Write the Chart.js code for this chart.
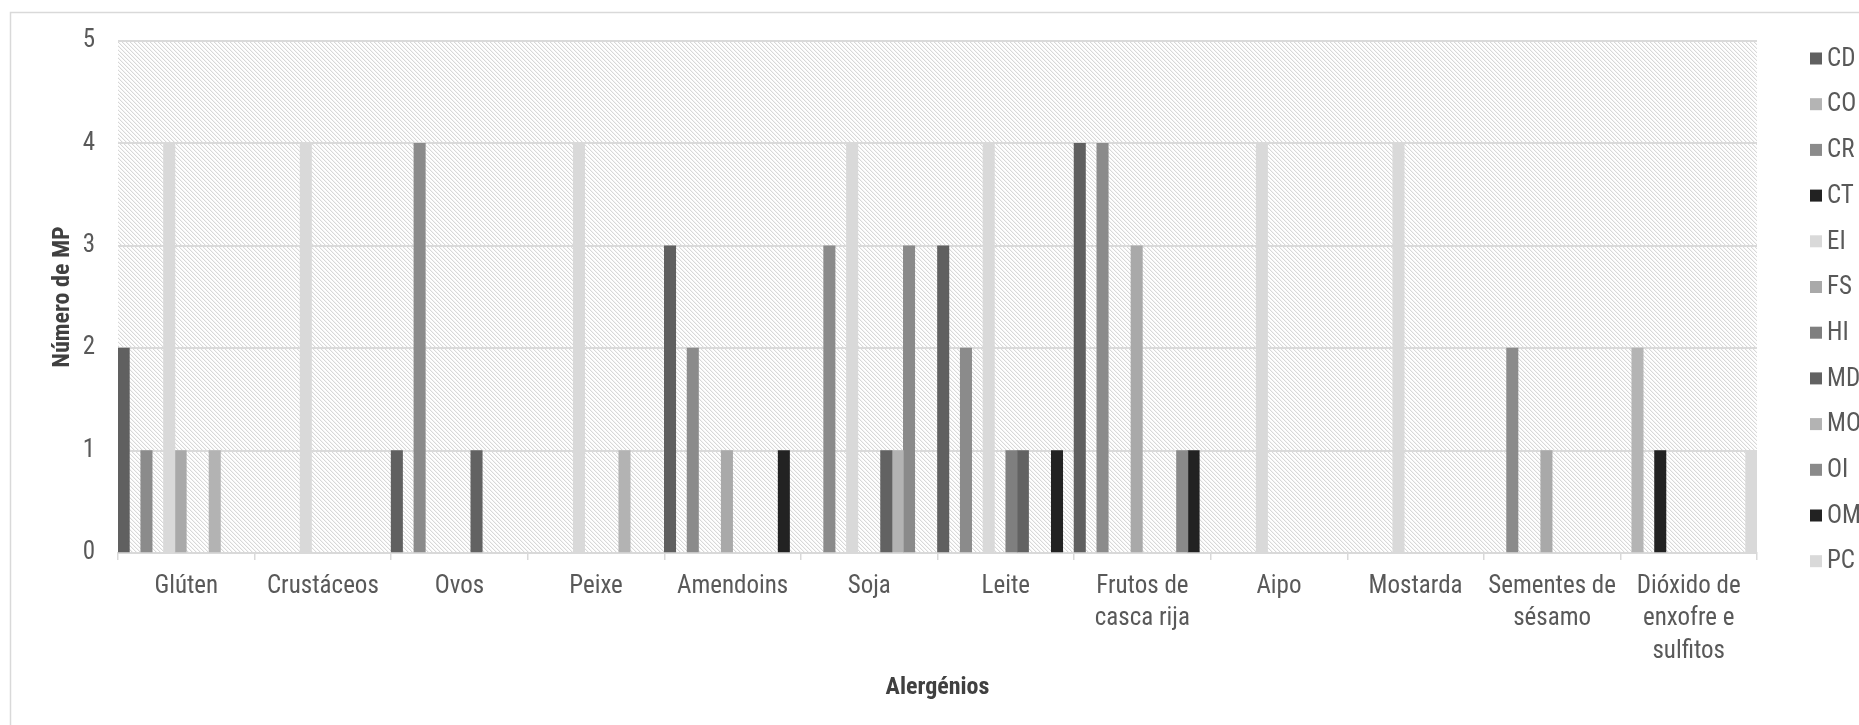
<!DOCTYPE html>
<html>
<head>
<meta charset="utf-8">
<script src="https://cdn.jsdelivr.net/npm/chart.js@4.4.0/dist/chart.umd.min.js"></script>
<style>
  html, body { margin: 0; padding: 0; background: #ffffff; }
  #wrap { width: 1859px; height: 725px; position: relative; }
</style>
</head>
<body>
<div id="wrap"><canvas id="chart" width="1859" height="725"></canvas></div>
<script>
// Categories (allergens) and tick values
const categories = [
  "Glúten", "Crustáceos", "Ovos", "Peixe", "Amendoins", "Soja", "Leite",
  ["Frutos de", "casca rija"], "Aipo", "Mostarda",
  ["Sementes de", "sésamo"], ["Dióxido de", "enxofre e", "sulfitos"]
];
const yTicks = [0, 1, 2, 3, 4, 5];

// Number of raw materials per allergen, one array per supplier group
const CD = [2, 0, 1, 0, 3, 0, 3, 4, 0, 0, 0, 0];
const CO = [0, 0, 0, 0, 0, 0, 0, 0, 0, 0, 0, 2];
const CR = [1, 0, 4, 0, 2, 3, 2, 4, 0, 0, 2, 0];
const CT = [0, 0, 0, 0, 0, 0, 0, 0, 0, 0, 0, 1];
const EI = [4, 4, 0, 4, 0, 4, 4, 0, 4, 4, 0, 0];
const FS = [1, 0, 0, 0, 1, 0, 0, 3, 0, 0, 1, 0];
const HI = [0, 0, 0, 0, 0, 0, 1, 0, 0, 0, 0, 0];
const MD = [0, 0, 1, 0, 0, 1, 1, 0, 0, 0, 0, 0];
const MO = [1, 0, 0, 1, 0, 1, 0, 0, 0, 0, 0, 0];
const OI = [0, 0, 0, 0, 0, 3, 0, 1, 0, 0, 0, 0];
const OM = [0, 0, 0, 0, 1, 0, 1, 1, 0, 0, 0, 0];
const PC = [0, 0, 0, 0, 0, 0, 0, 0, 0, 0, 0, 1];

const seriesNames = ["CD", "CO", "CR", "CT", "EI", "FS", "HI", "MD", "MO", "OI", "OM", "PC"];
const seriesValues = [CD, CO, CR, CT, EI, FS, HI, MD, MO, OI, OM, PC];
const seriesColors = ["#606060", "#b4b4b4", "#8b8b8b", "#222222", "#d9d9d9", "#a9a9a9",
                      "#7f7f7f", "#626262", "#b3b3b3", "#8a8a8a", "#222222", "#d9d9d9"];

const FONT = "'Liberation Sans Narrow', 'Roboto Condensed', 'DejaVu Sans Condensed', 'Liberation Sans', sans-serif";
const TEXT = "#595959";

// diagonal hatch used as plot-area fill
function makeHatch(ctx) {
  const t = document.createElement('canvas');
  t.width = 4; t.height = 4;
  const g = t.getContext('2d');
  const img = g.createImageData(4, 4);
  for (let y = 0; y < 4; y++) {
    for (let x = 0; x < 4; x++) {
      const d = (x - y + 4) % 4;
      const v = d === 0 ? 216 : (d === 1 ? 244 : 255);
      const i = (y * 4 + x) * 4;
      img.data[i] = v; img.data[i + 1] = v; img.data[i + 2] = v; img.data[i + 3] = 255;
    }
  }
  g.putImageData(img, 0, 0);
  return ctx.createPattern(t, 'repeat');
}

const backdrop = {
  id: 'backdrop',
  beforeDraw(chart) {
    const { ctx, chartArea: a } = chart;
    ctx.save();
    ctx.fillStyle = '#ffffff';
    ctx.fillRect(0, 0, chart.width, chart.height);
    ctx.fillStyle = makeHatch(ctx);
    ctx.fillRect(a.left, a.top, a.right - a.left, a.bottom - a.top);
    ctx.strokeStyle = '#d9d9d9';
    ctx.lineWidth = 1.5;
    ctx.strokeRect(10.5, 12.5, chart.width + 20, chart.height + 20);
    ctx.restore();
  }
};

// vertical legend at the right edge
const sideLegend = {
  id: 'sideLegend',
  afterDraw(chart) {
    const { ctx } = chart;
    ctx.save();
    ctx.font = "25px " + FONT;
    ctx.textBaseline = 'middle';
    ctx.textAlign = 'left';
    chart.data.datasets.forEach((ds, i) => {
      const y = 58.5 + i * 45.7;
      ctx.fillStyle = ds.backgroundColor;
      ctx.fillRect(1810, y - 6, 12, 12);
      ctx.fillStyle = TEXT;
      ctx.fillText(ds.label, 1827, y + 1);
    });
    ctx.restore();
  }
};

new Chart(document.getElementById('chart'), {
  type: 'bar',
  data: {
    labels: categories,
    datasets: seriesNames.map((name, i) => ({
      label: name,
      // empty cells are left out so nothing is drawn on the baseline
      data: seriesValues[i].map(v => (v === 0 ? null : v)),
      backgroundColor: seriesColors[i],
      borderWidth: 0,
      categoryPercentage: 1,
      barPercentage: 1
    }))
  },
  options: {
    responsive: false,
    animation: false,
    layout: { padding: { left: 0, top: 41, right: 102, bottom: 0 } },
    plugins: { legend: { display: false }, tooltip: { enabled: false } },
    scales: {
      x: {
        grid: { display: true, drawOnChartArea: false, drawTicks: true, tickLength: 7,
                color: '#d9d9d9', lineWidth: 1.5, offset: true },
        border: { display: true, color: '#d9d9d9', width: 2 },
        ticks: { color: TEXT, font: { family: FONT, size: 25, lineHeight: 1.3 }, padding: 10,
                 maxRotation: 0, autoSkip: false },
        title: { display: true, text: 'Alergénios', color: '#404040',
                 font: { family: FONT, size: 24, weight: 'bold' }, padding: { top: 0, bottom: 23 } },
        afterFit(scale) { scale.height = 172; }
      },
      y: {
        min: 0, max: 5,
        afterBuildTicks(scale) { scale.ticks = yTicks.map(v => ({ value: v })); },
        grid: { color: '#dadada', lineWidth: 2, drawTicks: false },
        border: { display: false },
        ticks: { color: TEXT, font: { family: FONT, size: 25 }, padding: 23 },
        title: { display: true, text: 'Número de MP', color: '#404040',
                 font: { family: FONT, size: 24, weight: 'bold' }, padding: { top: 49, bottom: 0 } },
        afterFit(scale) { scale.width = 118; }
      }
    }
  },
  plugins: [backdrop, sideLegend]
});
</script>
</body>
</html>
